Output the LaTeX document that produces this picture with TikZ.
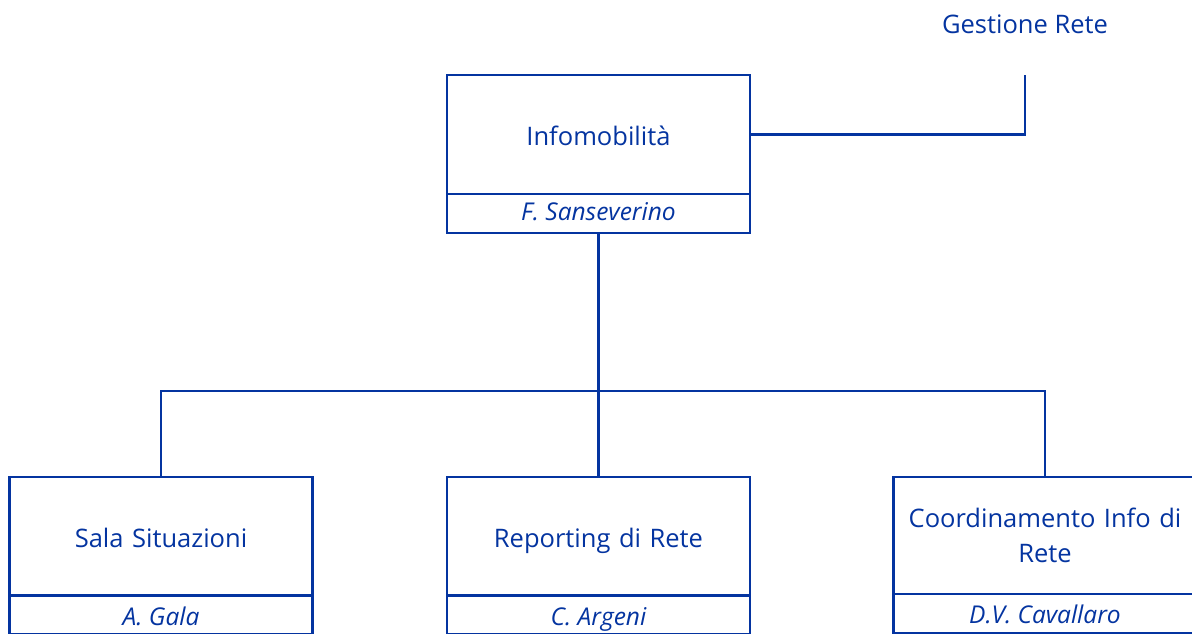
\documentclass[tikz,border=0pt]{standalone}
\usepackage{fontspec}
\setmainfont{Open Sans}
\definecolor{orgblue}{RGB}{4,52,160}
\begin{document}
\begin{tikzpicture}[x=1pt,y=-1pt,
  every node/.style={text=orgblue},
  unitbox/.style={draw=orgblue,line width=2.5pt,inner sep=0pt,minimum width=303pt,minimum height=119pt,text width=295pt,align=center,text height=22pt,text depth=0pt,font=\fontsize{25.5}{35}\selectfont},
  namebox/.style={draw=orgblue,line width=2.5pt,inner sep=0pt,minimum width=303pt,minimum height=39pt,align=center,text height=19pt,text depth=0pt,font=\fontsize{24.5}{28}\selectfont\itshape},
  link/.style={draw=orgblue,line width=2.5pt}]
\useasboundingbox (0,0) rectangle (1192,634);
% top unit
\node[unitbox] (info) at (598.5,134.5) {Infomobilità};
\node[namebox,text height=13pt] (infoname) at (598.5,213.5) {F. Sanseverino};
% parent label
\node[font=\fontsize{25.5}{30}\selectfont,inner sep=0pt] (gest) at (1025,24) {Gestione Rete};
\coordinate (gend) at (1025,75);
\draw[link] (info.east) -| (gend);
% children
\node[unitbox] (sala) at (161,536.5) {Sala Situazioni};
\node[namebox,text height=21pt] (salaname) at (161,614.5) {A. Gala};
\node[unitbox] (rep) at (598.5,536.5) {Reporting di Rete};
\node[namebox,text height=21pt] (repname) at (598.5,614.5) {C. Argeni};
\node[unitbox,minimum height=117pt,text height=,text depth=] (coord) at (1045,535.5) {Coordinamento Info di\\Rete};
\node[namebox] (coordname) at (1045,613.5) {D.V. Cavallaro};
% tree
\coordinate (bus) at (598.5,391);
\draw[link] (infoname.south) -- (bus);
\draw[link] (sala.north) |- (bus) -| (coord.north);
\draw[link] (rep.north) -- (bus);
\end{tikzpicture}
\end{document}
